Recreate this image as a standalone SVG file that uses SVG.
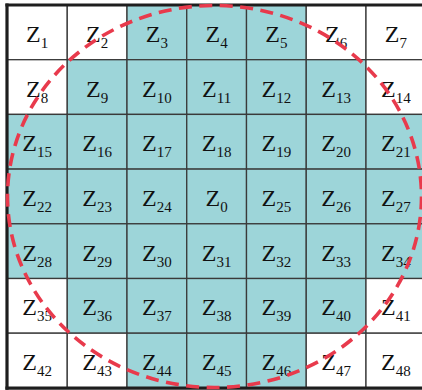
<svg xmlns="http://www.w3.org/2000/svg" width="422" height="390" viewBox="0 0 422 390">
<style>
.c rect{stroke:#3a3a3a;stroke-width:1.3}
.w rect{fill:#ffffff}
.t rect{fill:#9dd5d9}
.c text{font-family:"Liberation Serif","Times New Roman",serif;font-size:24px;fill:#111;text-anchor:middle}
.c tspan{font-size:15px}
.border{stroke:#1e1e1e;stroke-width:3.2;fill:none}
.circ{fill:none;stroke:#e83a4c;stroke-width:3.6;stroke-dasharray:13 7.5}
</style>
<rect x="0" y="0" width="422" height="390" fill="#ffffff"/>
<g id="cells">
<g id="z1" class="c w"><rect x="7" y="5" width="60.25" height="54.7"/><text x="37.1" y="41.9">Z<tspan dy="6">1</tspan></text></g>
<g id="z2" class="c w"><rect x="67.25" y="5" width="59.75" height="54.7"/><text x="97.1" y="41.9">Z<tspan dy="6">2</tspan></text></g>
<g id="z3" class="c t"><rect x="127" y="5" width="59.75" height="54.7"/><text x="156.9" y="41.9">Z<tspan dy="6">3</tspan></text></g>
<g id="z4" class="c t"><rect x="186.75" y="5" width="59.75" height="54.7"/><text x="216.6" y="41.9">Z<tspan dy="6">4</tspan></text></g>
<g id="z5" class="c t"><rect x="246.5" y="5" width="59.75" height="54.7"/><text x="276.4" y="41.9">Z<tspan dy="6">5</tspan></text></g>
<g id="z6" class="c w"><rect x="306.25" y="5" width="59.75" height="54.7"/><text x="336.1" y="41.9">Z<tspan dy="6">6</tspan></text></g>
<g id="z7" class="c w"><rect x="366" y="5" width="59.75" height="54.7"/><text x="395.9" y="41.9">Z<tspan dy="6">7</tspan></text></g>

<g id="z8" class="c w"><rect x="7" y="59.7" width="60.25" height="54.7"/><text x="37.1" y="96.6">Z<tspan dy="6">8</tspan></text></g>
<g id="z9" class="c t"><rect x="67.25" y="59.7" width="59.75" height="54.7"/><text x="97.1" y="96.6">Z<tspan dy="6">9</tspan></text></g>
<g id="z10" class="c t"><rect x="127" y="59.7" width="59.75" height="54.7"/><text x="156.9" y="96.6">Z<tspan dy="6">10</tspan></text></g>
<g id="z11" class="c t"><rect x="186.75" y="59.7" width="59.75" height="54.7"/><text x="216.6" y="96.6">Z<tspan dy="6">11</tspan></text></g>
<g id="z12" class="c t"><rect x="246.5" y="59.7" width="59.75" height="54.7"/><text x="276.4" y="96.6">Z<tspan dy="6">12</tspan></text></g>
<g id="z13" class="c t"><rect x="306.25" y="59.7" width="59.75" height="54.7"/><text x="336.1" y="96.6">Z<tspan dy="6">13</tspan></text></g>
<g id="z14" class="c w"><rect x="366" y="59.7" width="59.75" height="54.7"/><text x="395.9" y="96.6">Z<tspan dy="6">14</tspan></text></g>

<g id="z15" class="c t"><rect x="7" y="114.4" width="60.25" height="54.7"/><text x="37.1" y="151.3">Z<tspan dy="6">15</tspan></text></g>
<g id="z16" class="c t"><rect x="67.25" y="114.4" width="59.75" height="54.7"/><text x="97.1" y="151.3">Z<tspan dy="6">16</tspan></text></g>
<g id="z17" class="c t"><rect x="127" y="114.4" width="59.75" height="54.7"/><text x="156.9" y="151.3">Z<tspan dy="6">17</tspan></text></g>
<g id="z18" class="c t"><rect x="186.75" y="114.4" width="59.75" height="54.7"/><text x="216.6" y="151.3">Z<tspan dy="6">18</tspan></text></g>
<g id="z19" class="c t"><rect x="246.5" y="114.4" width="59.75" height="54.7"/><text x="276.4" y="151.3">Z<tspan dy="6">19</tspan></text></g>
<g id="z20" class="c t"><rect x="306.25" y="114.4" width="59.75" height="54.7"/><text x="336.1" y="151.3">Z<tspan dy="6">20</tspan></text></g>
<g id="z21" class="c t"><rect x="366" y="114.4" width="59.75" height="54.7"/><text x="395.9" y="151.3">Z<tspan dy="6">21</tspan></text></g>

<g id="z22" class="c t"><rect x="7" y="169.1" width="60.25" height="54.7"/><text x="37.1" y="206">Z<tspan dy="6">22</tspan></text></g>
<g id="z23" class="c t"><rect x="67.25" y="169.1" width="59.75" height="54.7"/><text x="97.1" y="206">Z<tspan dy="6">23</tspan></text></g>
<g id="z24" class="c t"><rect x="127" y="169.1" width="59.75" height="54.7"/><text x="156.9" y="206">Z<tspan dy="6">24</tspan></text></g>
<g id="z0" class="c t"><rect x="186.75" y="169.1" width="59.75" height="54.7"/><text x="216.6" y="206">Z<tspan dy="6">0</tspan></text></g>
<g id="z25" class="c t"><rect x="246.5" y="169.1" width="59.75" height="54.7"/><text x="276.4" y="206">Z<tspan dy="6">25</tspan></text></g>
<g id="z26" class="c t"><rect x="306.25" y="169.1" width="59.75" height="54.7"/><text x="336.1" y="206">Z<tspan dy="6">26</tspan></text></g>
<g id="z27" class="c t"><rect x="366" y="169.1" width="59.75" height="54.7"/><text x="395.9" y="206">Z<tspan dy="6">27</tspan></text></g>

<g id="z28" class="c t"><rect x="7" y="223.8" width="60.25" height="54.7"/><text x="37.1" y="260.7">Z<tspan dy="6">28</tspan></text></g>
<g id="z29" class="c t"><rect x="67.25" y="223.8" width="59.75" height="54.7"/><text x="97.1" y="260.7">Z<tspan dy="6">29</tspan></text></g>
<g id="z30" class="c t"><rect x="127" y="223.8" width="59.75" height="54.7"/><text x="156.9" y="260.7">Z<tspan dy="6">30</tspan></text></g>
<g id="z31" class="c t"><rect x="186.75" y="223.8" width="59.75" height="54.7"/><text x="216.6" y="260.7">Z<tspan dy="6">31</tspan></text></g>
<g id="z32" class="c t"><rect x="246.5" y="223.8" width="59.75" height="54.7"/><text x="276.4" y="260.7">Z<tspan dy="6">32</tspan></text></g>
<g id="z33" class="c t"><rect x="306.25" y="223.8" width="59.75" height="54.7"/><text x="336.1" y="260.7">Z<tspan dy="6">33</tspan></text></g>
<g id="z34" class="c t"><rect x="366" y="223.8" width="59.75" height="54.7"/><text x="395.9" y="260.7">Z<tspan dy="6">34</tspan></text></g>

<g id="z35" class="c w"><rect x="7" y="278.5" width="60.25" height="54.7"/><text x="37.1" y="315.4">Z<tspan dy="6">35</tspan></text></g>
<g id="z36" class="c t"><rect x="67.25" y="278.5" width="59.75" height="54.7"/><text x="97.1" y="315.4">Z<tspan dy="6">36</tspan></text></g>
<g id="z37" class="c t"><rect x="127" y="278.5" width="59.75" height="54.7"/><text x="156.9" y="315.4">Z<tspan dy="6">37</tspan></text></g>
<g id="z38" class="c t"><rect x="186.75" y="278.5" width="59.75" height="54.7"/><text x="216.6" y="315.4">Z<tspan dy="6">38</tspan></text></g>
<g id="z39" class="c t"><rect x="246.5" y="278.5" width="59.75" height="54.7"/><text x="276.4" y="315.4">Z<tspan dy="6">39</tspan></text></g>
<g id="z40" class="c t"><rect x="306.25" y="278.5" width="59.75" height="54.7"/><text x="336.1" y="315.4">Z<tspan dy="6">40</tspan></text></g>
<g id="z41" class="c w"><rect x="366" y="278.5" width="59.75" height="54.7"/><text x="395.9" y="315.4">Z<tspan dy="6">41</tspan></text></g>

<g id="z42" class="c w"><rect x="7" y="333.2" width="60.25" height="54.7"/><text x="37.1" y="370.1">Z<tspan dy="6">42</tspan></text></g>
<g id="z43" class="c w"><rect x="67.25" y="333.2" width="59.75" height="54.7"/><text x="97.1" y="370.1">Z<tspan dy="6">43</tspan></text></g>
<g id="z44" class="c t"><rect x="127" y="333.2" width="59.75" height="54.7"/><text x="156.9" y="370.1">Z<tspan dy="6">44</tspan></text></g>
<g id="z45" class="c t"><rect x="186.75" y="333.2" width="59.75" height="54.7"/><text x="216.6" y="370.1">Z<tspan dy="6">45</tspan></text></g>
<g id="z46" class="c t"><rect x="246.5" y="333.2" width="59.75" height="54.7"/><text x="276.4" y="370.1">Z<tspan dy="6">46</tspan></text></g>
<g id="z47" class="c w"><rect x="306.25" y="333.2" width="59.75" height="54.7"/><text x="336.1" y="370.1">Z<tspan dy="6">47</tspan></text></g>
<g id="z48" class="c w"><rect x="366" y="333.2" width="59.75" height="54.7"/><text x="395.9" y="370.1">Z<tspan dy="6">48</tspan></text></g>
</g>
<g id="frame">
<line class="border" x1="5.4" y1="5" x2="430" y2="5"/>
<line class="border" x1="5.4" y1="388.2" x2="430" y2="388.2"/>
<line class="border" x1="7" y1="3.4" x2="7" y2="389.8"/>
</g>
<g id="circle">
<ellipse class="circ" cx="214.5" cy="196.5" rx="207" ry="191"/>
</g>
</svg>
